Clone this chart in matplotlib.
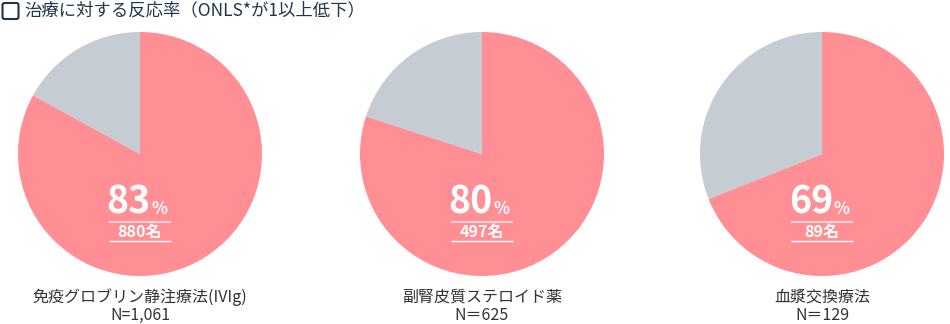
import matplotlib
matplotlib.use("Agg")
import matplotlib.pyplot as plt
from matplotlib.patches import FancyBboxPatch

plt.rcParams['font.family'] = ['Noto Sans CJK JP', 'DejaVu Sans']

title = "治療に対する反応率（ONLS*が1以上低下）"
treatments = ["免疫グロブリン静注療法(IVIg)", "副腎皮質ステロイド薬", "血漿交換療法"]
n_labels = ["N=1,061", "N＝625", "N＝129"]
response_pct = [83, 80, 69]
responders = ["880名", "497名", "89名"]

RED = "#FF8F94"
GREY = "#C5CCD3"
TEXT = "#333333"
NAVY = "#1E3550"

W, H = 950, 324
fig = plt.figure(figsize=(W / 100, H / 100), dpi=100)
ax = fig.add_axes([0, 0, 1, 1])

def Y(py):
    return H - py

centers_x = [140, 482, 822]
cy = 154
R = 122

for i, cx in enumerate(centers_x):
    p = response_pct[i]
    ax.pie([p, 100 - p], colors=[RED, GREY], startangle=90, counterclock=False,
           center=(cx, Y(cy)), radius=R, frame=True,
           wedgeprops=dict(linewidth=0))
    ax.text(cx + 11, Y(213.5), str(p), ha="right", va="baseline", color="white",
            fontsize=27, fontweight="bold")
    ax.text(cx + 12, Y(213.5), "%", ha="left", va="baseline", color="white",
            fontsize=12, fontweight="bold")
    ax.plot([cx - 31, cx + 31], [Y(222), Y(222)], color="white", alpha=0.6, lw=1.5,
            solid_capstyle="butt")
    ax.text(cx, Y(237), responders[i], ha="center", va="baseline", color="white",
            fontsize=11.5, fontweight="bold")
    ax.plot([cx - 31, cx + 31], [Y(241), Y(241)], color="white", lw=1,
            solid_capstyle="butt")
    ax.text(cx, Y(297), treatments[i], ha="center", va="center", color=TEXT, fontsize=11.5)
    ax.text(cx, Y(315), n_labels[i], ha="center", va="center", color=TEXT, fontsize=11.5)

ax.set_xlim(0, W)
ax.set_ylim(0, H)
ax.set_aspect("auto")
ax.axis("off")

box = FancyBboxPatch((2.5, Y(19)), 16, 16, boxstyle="round,pad=0,rounding_size=2",
                     facecolor="white", edgecolor=NAVY, lw=1.5)
ax.add_patch(box)
ax.text(24, Y(10.5), title, ha="left", va="center", color=NAVY, fontsize=12.5)

fig.savefig("out.png", dpi=100)
